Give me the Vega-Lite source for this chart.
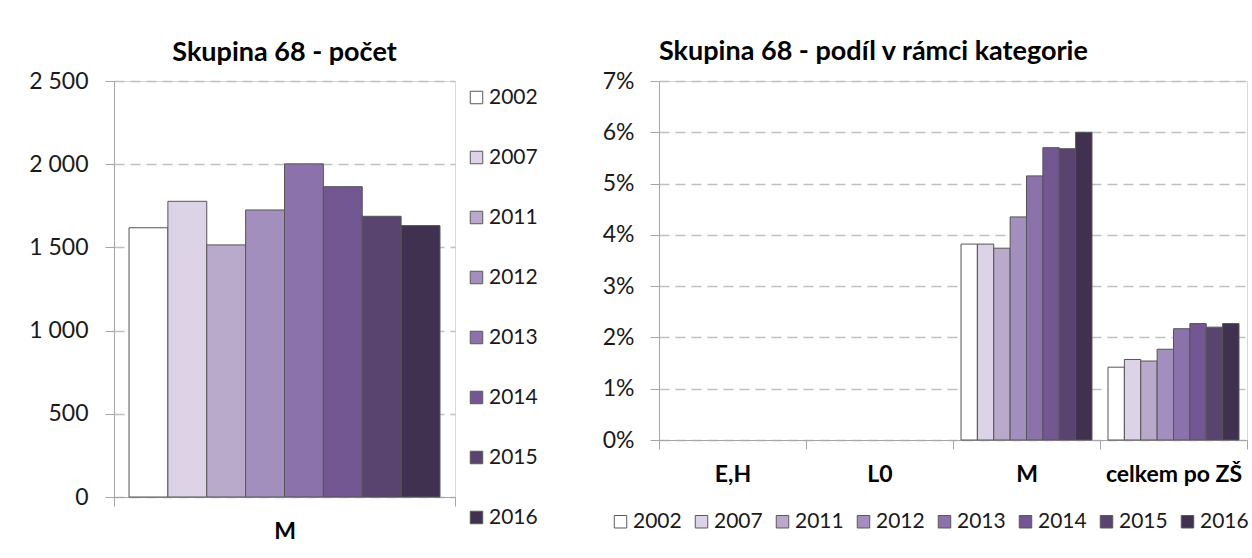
{
  "$schema": "https://vega.github.io/schema/vega-lite/v6.json",
  "background": "white",
  "padding": {"left": 28, "top": 37, "right": 0, "bottom": 0},
  "spacing": 62,
  "datasets": {
    "count": [
      {"cat": "M", "year": "2002", "value": 1618},
      {"cat": "M", "year": "2007", "value": 1777},
      {"cat": "M", "year": "2011", "value": 1515},
      {"cat": "M", "year": "2012", "value": 1725},
      {"cat": "M", "year": "2013", "value": 2002},
      {"cat": "M", "year": "2014", "value": 1865},
      {"cat": "M", "year": "2015", "value": 1687},
      {"cat": "M", "year": "2016", "value": 1631}
    ],
    "share": [
      {"cat": "M", "year": "2002", "value": 0.0382},
      {"cat": "M", "year": "2007", "value": 0.0382},
      {"cat": "M", "year": "2011", "value": 0.0374},
      {"cat": "M", "year": "2012", "value": 0.0435},
      {"cat": "M", "year": "2013", "value": 0.0515},
      {"cat": "M", "year": "2014", "value": 0.0570},
      {"cat": "M", "year": "2015", "value": 0.0568},
      {"cat": "M", "year": "2016", "value": 0.0600},
      {"cat": "celkem po ZŠ", "year": "2002", "value": 0.0142},
      {"cat": "celkem po ZŠ", "year": "2007", "value": 0.0157},
      {"cat": "celkem po ZŠ", "year": "2011", "value": 0.0154},
      {"cat": "celkem po ZŠ", "year": "2012", "value": 0.0177},
      {"cat": "celkem po ZŠ", "year": "2013", "value": 0.0217},
      {"cat": "celkem po ZŠ", "year": "2014", "value": 0.0227},
      {"cat": "celkem po ZŠ", "year": "2015", "value": 0.0220},
      {"cat": "celkem po ZŠ", "year": "2016", "value": 0.0227}
    ]
  },
  "resolve": {
    "scale": {"x": "independent", "xOffset": "independent", "y": "independent", "color": "independent"},
    "axis": {"x": "independent", "y": "independent"},
    "legend": {"color": "independent"}
  },
  "config": {
    "font": "Lato",
    "view": {"stroke": "#d9d9d9", "strokeWidth": 1},
    "axis": {
      "domainColor": "#a6a6a6",
      "tickColor": "#a6a6a6",
      "tickSize": 9,
      "labelFont": "Lato",
      "labelColor": "#1a1a1a",
      "labelFontSize": 23
    },
    "axisY": {"gridDash": [10, 6], "gridColor": "#c0c0c0", "gridWidth": 1.5, "labelPadding": 16},
    "axisX": {"grid": false, "labelFontWeight": "bold", "labelPadding": 14, "labelAngle": 0, "tickBand": "extent", "labelColor": "#000000", "labelFontSize": 23},
    "legend": {
      "symbolType": "square",
      "symbolSize": 156,
      "symbolStrokeColor": "#595959",
      "symbolStrokeWidth": 1,
      "symbolOpacity": 1,
      "labelFont": "Lato",
      "labelFontSize": 21,
      "labelColor": "#1a1a1a",
      "labelOffset": 2,
      "title": null
    },
    "title": {"font": "Lato", "fontSize": 27, "fontWeight": "bold", "color": "#000000"}
  },
  "hconcat": [
    {
      "width": 341,
      "height": 416,
      "title": {"text": "Skupina 68 - počet", "anchor": "middle", "frame": "group", "offset": 3},
      "data": {"name": "count"},
      "mark": {"type": "bar", "stroke": "#555555", "strokeWidth": 1},
      "encoding": {
        "x": {"field": "cat", "type": "nominal", "scale": {"paddingInner": 0, "paddingOuter": 0}, "axis": {"title": null}},
        "xOffset": {"field": "year", "type": "nominal", "scale": {"paddingInner": 0, "paddingOuter": 0.386}},
        "y": {
          "field": "value", "type": "quantitative",
          "scale": {"domain": [0, 2500]},
          "axis": {"title": null, "values": [0, 500, 1000, 1500, 2000, 2500], "labelExpr": "replace(format(datum.value, ','), ',', ' ')", "labelPadding": 17}
        },
        "color": {
          "field": "year", "type": "nominal",
          "scale": {"domain": ["2002", "2007", "2011", "2012", "2013", "2014", "2015", "2016"], "range": ["#ffffff", "#dcd3e6", "#b9a9cb", "#a38fbd", "#8c72ab", "#735792", "#59446f", "#403151"]},
          "legend": {"orient": "none", "direction": "vertical", "legendX": 352, "legendY": 6, "rowPadding": 38}
        }
      }
    },
    {
      "width": 588,
      "height": 359,
      "title": {"text": "Skupina 68 - podíl v rámci kategorie", "anchor": "start", "frame": "group", "offset": 4},
      "data": {"name": "share"},
      "mark": {"type": "bar", "stroke": "#555555", "strokeWidth": 1},
      "encoding": {
        "x": {"field": "cat", "type": "nominal", "sort": null, "scale": {"domain": ["E,H", "L0", "M", "celkem po ZŠ"], "paddingInner": 0, "paddingOuter": 0}, "axis": {"title": null}},
        "xOffset": {"field": "year", "type": "nominal", "scale": {"domain": ["2002", "2007", "2011", "2012", "2013", "2014", "2015", "2016"], "paddingInner": 0, "paddingOuter": 0.489}},
        "y": {
          "field": "value", "type": "quantitative",
          "scale": {"domain": [0, 0.07]},
          "axis": {"title": null, "format": ".0%", "values": [0, 0.01, 0.02, 0.03, 0.04, 0.05, 0.06, 0.07]}
        },
        "color": {
          "field": "year", "type": "nominal",
          "scale": {"domain": ["2002", "2007", "2011", "2012", "2013", "2014", "2015", "2016"], "range": ["#ffffff", "#dcd3e6", "#b9a9cb", "#a38fbd", "#8c72ab", "#735792", "#59446f", "#403151"]},
          "legend": {"orient": "none", "direction": "horizontal", "columns": 8, "columnPadding": 9, "legendX": -49, "legendY": 430}
        }
      }
    }
  ]
}
